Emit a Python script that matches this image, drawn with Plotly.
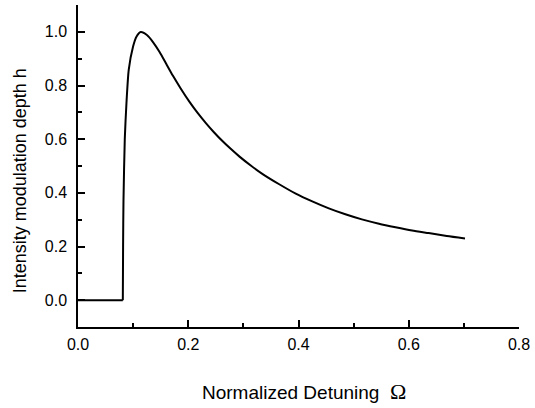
import plotly.graph_objects as go

# Flat (zero) part of the curve
flat_x = [0.0, 0.0813]
flat_y = [0.0, 0.0]

# Rising + decaying part
curve_x = [0.0813, 0.0818, 0.0825, 0.0849, 0.0879, 0.092, 0.0999, 0.106, 0.1138,
           0.125, 0.136, 0.148, 0.160, 0.172, 0.186, 0.202, 0.217, 0.232, 0.247,
           0.262, 0.277, 0.293, 0.314, 0.335, 0.365, 0.395, 0.425, 0.455, 0.485,
           0.515, 0.546, 0.576, 0.606, 0.636, 0.669, 0.702]
curve_y = [0.0, 0.2, 0.37, 0.603, 0.734, 0.858, 0.945, 0.982, 0.999,
           0.988, 0.962, 0.925, 0.881, 0.837, 0.790, 0.740, 0.698, 0.660, 0.625,
           0.593, 0.564, 0.535, 0.501, 0.470, 0.432, 0.397, 0.368, 0.342, 0.320,
           0.301, 0.285, 0.272, 0.260, 0.250, 0.239, 0.230]

x_ticks = [0.0, 0.2, 0.4, 0.6, 0.8]
x_tick_labels = ["0.0", "0.2", "0.4", "0.6", "0.8"]
y_ticks = [0.0, 0.2, 0.4, 0.6, 0.8, 1.0]
y_tick_labels = ["0.0", "0.2", "0.4", "0.6", "0.8", "1.0"]

x_title = "Normalized Detuning  <span style='font-family:Liberation Serif;font-size:22px'>Ω</span>"
y_title = "Intensity modulation depth h"

font_family = "Liberation Sans, Arial, sans-serif"

fig = go.Figure()
fig.add_trace(go.Scatter(x=flat_x, y=flat_y, mode="lines",
                         line=dict(color="black", width=2), showlegend=False))
fig.add_trace(go.Scatter(x=curve_x, y=curve_y, mode="lines",
                         line=dict(color="black", width=2, shape="spline", smoothing=0.6),
                         showlegend=False))

axis_common = dict(
    showgrid=False, zeroline=False, showline=True, linecolor="black", linewidth=1.5,
    ticks="inside", ticklen=7, tickwidth=1.5, tickcolor="black",
    tickfont=dict(family=font_family, size=16, color="black"),
)

fig.update_xaxes(range=[0, 0.8], tickvals=x_ticks, ticktext=x_tick_labels,
                 minor=dict(dtick=0.1, tick0=0, ticks="inside", ticklen=4,
                            tickwidth=1.5, tickcolor="black"),
                 ticklabelstandoff=2, **axis_common)
fig.update_yaxes(range=[-0.1, 1.1], tickvals=y_ticks, ticktext=y_tick_labels,
                 minor=dict(dtick=0.1, tick0=0, ticks="inside", ticklen=4,
                            tickwidth=1.5, tickcolor="black"),
                 ticklabelstandoff=6, **axis_common)

fig.add_annotation(text=x_title, xref="paper", yref="paper", x=0.512, y=-0.199,
                   xanchor="center", yanchor="middle", showarrow=False,
                   font=dict(family=font_family, size=19, color="black"))
fig.add_annotation(text=y_title, xref="paper", yref="paper", x=-0.131, y=0.453,
                   xanchor="center", yanchor="middle", showarrow=False, textangle=-90,
                   font=dict(family=font_family, size=18, color="black"))

fig.update_layout(
    width=535, height=408,
    margin=dict(l=78, r=14, t=5, b=81),
    plot_bgcolor="white", paper_bgcolor="white",
)

fig.write_html("out.html", config={"displayModeBar": False},
               post_script="document.body.style.margin='0px';")
